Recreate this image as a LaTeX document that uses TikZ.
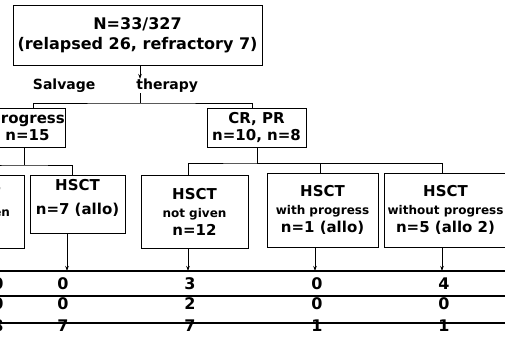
\documentclass[tikz,border=0pt]{standalone}
\usepackage{fontspec}
\setmainfont{DejaVu Sans}
\usetikzlibrary{arrows.meta}
\newcommand\fsz[2]{\fontsize{#1}{#2}\selectfont\bfseries}
\begin{document}
\begin{tikzpicture}[x=1pt,y=-1pt,
  box/.style={draw, line width=0.9pt, inner sep=0pt, align=center},
  conn/.style={line width=0.8pt},
  arr/.style={line width=0.8pt, -{Stealth[length=5pt,width=3.5pt]}},
  tline/.style={line width=1.3pt},
  num/.style={inner sep=0pt, font=\fsz{16}{18}}]
\fill[white] (0,0) rectangle (505,342);
\useasboundingbox (0,0) rectangle (505,342);

% top box
\node[box, minimum width=249pt, minimum height=60pt, font=\fsz{16}{20}] (top) at (137.5,35)
  {N=33/327\\(relapsed 26, refractory 7)};
\node[inner sep=0pt, font=\fsz{14}{16}] (salv) at (115.5,86) {Salvage\hspace{41pt}therapy};

% second row
\node[box, minimum width=75pt, minimum height=39pt, font=\fsz{15}{17}] (prog) at (27.5,127.5)
  {progress\\n=15};
\node[box, minimum width=99pt, minimum height=39pt, font=\fsz{15}{17}] (cr) at (256.5,127.5)
  {CR, PR\\n=10, n=8};

% third row
\node[box, minimum width=92pt, minimum height=73pt, font=\fsz{15}{18}] (hl) at (-22,211.5)
  {HSCT\\{\fsz{12}{14}not given}\\n=8};
\node[box, minimum width=95pt, minimum height=58pt, font=\fsz{15}{18}] (n7) at (77.5,204)
  {HSCT\\[6pt]n=7 (allo)\\[-4pt]\mbox{}};
\node[box, minimum width=107pt, minimum height=73pt, font=\fsz{15}{18}] (ng) at (194.5,211.5)
  {HSCT\\{\fsz{12}{14}not given}\\n=12};
\node[box, minimum width=111pt, minimum height=74pt, font=\fsz{15}{18}] (wp) at (322.5,210)
  {HSCT\\{\fsz{12}{14}with progress}\\n=1 (allo)};
\node[box, minimum width=123pt, minimum height=74pt, font=\fsz{15}{18}] (wo) at (445.5,210)
  {HSCT\\{\fsz{12}{14}without progress}\\n=5 (allo 2)};

% connectors
\draw[arr] ([xshift=2.5pt]top.south) -- ([xshift=2.5pt]top.south |- salv.north);
\coordinate (j1) at (140,103);
\draw[conn] (salv.south -| j1) -- (j1);
\draw[conn] ([xshift=5.5pt]prog.north) |- (j1) -| ([xshift=-4.5pt]cr.north);

\coordinate (j2) at (24,165);
\draw[conn] (prog.south -| j2) -- (j2);
\draw[conn] (hl.north) |- (j2) -| ([xshift=-5.5pt]n7.north);

\coordinate (j3) at (257,163);
\draw[conn] (cr.south -| j3) -- (j3);
\draw[conn] ([xshift=-6.5pt]ng.north) |- (j3) -| ([xshift=-2.5pt]wp.north);
\draw[conn] (j3) -| ([xshift=-3.5pt]wo.north);

% table lines
\coordinate (t1l) at (-5,271); \coordinate (t1r) at (510,271);
\coordinate (t2l) at (-5,296); \coordinate (t2r) at (510,296);
\coordinate (t3l) at (-5,323); \coordinate (t3r) at (510,323);
\draw[tline] (t1l) -- (t1r);
\draw[tline] (t2l) -- (t2r);
\draw[tline] (t3l) -- (t3r);

% arrows to table
\draw[arr] ([xshift=-10.5pt]n7.south) -- ([xshift=-10.5pt]n7.south |- t1l);
\draw[arr] ([xshift=-6.5pt]ng.south) -- ([xshift=-6.5pt]ng.south |- t1l);
\draw[arr] ([xshift=-7.5pt]wp.south) -- ([xshift=-7.5pt]wp.south |- t1l);
\draw[arr] ([xshift=-3.5pt]wo.south) -- ([xshift=-3.5pt]wo.south |- t1l);

% numbers
\node[num] (a1) at (-2,284) {0};
\node[num] (b1) at (63,284) {0};
\node[num] (c1) at (190,284) {3};
\node[num] (d1) at (317,284) {0};
\node[num] (e1) at (444,284) {4};
\node[num] (a2) at (-2,304) {0};
\node[num] (b2) at (63,304) {0};
\node[num] (c2) at (190,304) {2};
\node[num] (d2) at (317,304) {0};
\node[num] (e2) at (444,304) {0};
\node[num] (a3) at (-2,326) {8};
\node[num] (b3) at (63,326) {7};
\node[num] (c3) at (190,326) {7};
\node[num] (d3) at (317,326) {1};
\node[num] (e3) at (444,326) {1};
\end{tikzpicture}
\end{document}
